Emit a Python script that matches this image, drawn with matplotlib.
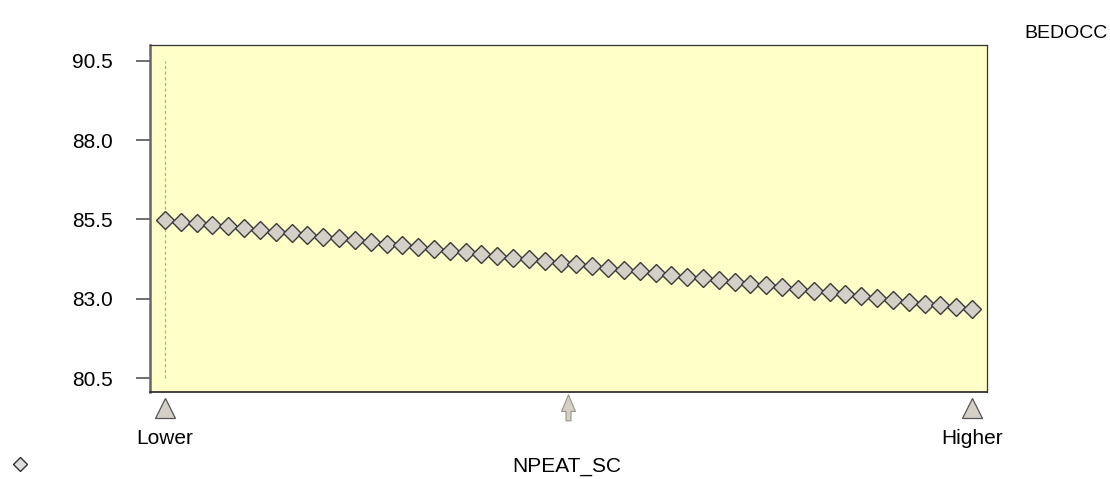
import matplotlib

matplotlib.use("Agg")

import matplotlib.pyplot as plt
import numpy as np

plt.rcParams["font.family"] = ["Liberation Sans", "DejaVu Sans"]

# BEDOCC response, one value per step of NPEAT_SC
bedocc = [
    85.48, 85.43, 85.38, 85.34, 85.28, 85.23, 85.17, 85.12, 85.07, 85.02,
    84.96, 84.91, 84.85, 84.80, 84.74, 84.69, 84.63, 84.58, 84.52, 84.47,
    84.41, 84.36, 84.30, 84.25, 84.19, 84.14, 84.08, 84.03, 83.97, 83.92,
    83.86, 83.81, 83.75, 83.70, 83.64, 83.59, 83.53, 83.48, 83.42, 83.37,
    83.31, 83.26, 83.20, 83.14, 83.08, 83.03, 82.97, 82.91, 82.85, 82.80,
    82.74, 82.68,
]
y_ticks = [80.5, 83.0, 85.5, 88.0, 90.5]
y_tick_labels = ["80.5", "83.0", "85.5", "88.0", "90.5"]
end_labels = ["Lower", "Higher"]
x_label = "NPEAT_SC"
y_title = "BEDOCC"

steps = np.arange(len(bedocc))
x_lo, x_hi = steps[0], steps[-1]
x_mid = (x_lo + x_hi) / 2

fig = plt.figure(figsize=(11.1, 4.79), dpi=100)
ax = fig.add_axes([150 / 1110, 1 - 392 / 479, 837 / 1110, 347 / 479])
ax.set_facecolor("#FFFFC8")

ax.vlines(x_lo, y_ticks[0], y_ticks[-1], colors="#aaaaaa", linestyles=(0, (2.5, 2)),
          linewidth=0.9, zorder=1)
ax.plot(steps, bedocc, linestyle="none", marker="D", markersize=9,
        markerfacecolor="#D4D0C8", markeredgecolor="#3a3a3a",
        markeredgewidth=1.0, zorder=3)

ax.set_xlim(-0.95, 51.95)
ax.set_ylim(80.06, 91.0)
ax.set_xticks([])
ax.set_yticks(y_ticks)
ax.set_yticklabels(y_tick_labels, fontsize=15)
ax.tick_params(axis="y", length=10, width=1.2, color="#555555", pad=17)
for side in ["left", "bottom", "top", "right"]:
    ax.spines[side].set_color("#333333")
ax.spines["left"].set_color("#666666")
ax.spines["left"].set_linewidth(1.8)
ax.spines["bottom"].set_linewidth(1.3)
ax.spines["top"].set_linewidth(0.9)
ax.spines["right"].set_linewidth(0.9)

# slider markers under the axis
trans = ax.get_xaxis_transform()
for xv, lab in zip([x_lo, x_hi], end_labels):
    ax.plot(xv, -0.045, marker="^", markersize=15, markerfacecolor="#D4D0C8",
            markeredgecolor="#555555", markeredgewidth=0.9,
            transform=trans, clip_on=False)
    ax.text(xv, -0.135, lab, transform=trans, ha="center", va="center",
            fontsize=15)
ax.annotate("", xy=(x_mid, -0.008), xytext=(x_mid, -0.083),
            xycoords=trans, textcoords=trans,
            arrowprops=dict(arrowstyle="simple,head_length=0.6,head_width=0.5,tail_width=0.18",
                            mutation_scale=20, shrinkA=0, shrinkB=0,
                            facecolor="#D4D0C8", edgecolor="#9a9488", linewidth=0.8))

fig.text(567 / 1110, 1 - 467 / 479, x_label, ha="center", va="center", fontsize=15)
fig.text(1066 / 1110, 1 - 33 / 479, y_title, ha="center", va="center", fontsize=14)
fig.lines.append(plt.Line2D([20 / 1110], [1 - 464 / 479], transform=fig.transFigure,
                            marker="D", markersize=7, markerfacecolor="#DDDDDD",
                            markeredgecolor="#333333", markeredgewidth=1.0,
                            linestyle="none"))

fig.savefig("out.png", dpi=100)
plt.close(fig)
